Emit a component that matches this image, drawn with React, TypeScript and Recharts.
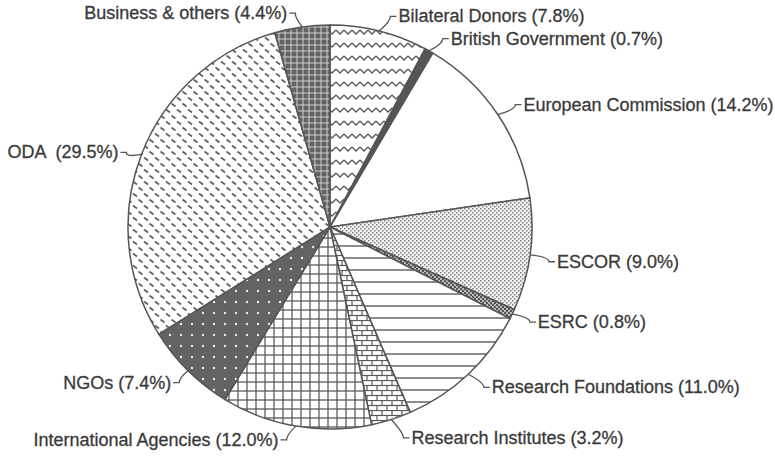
import React from 'react';
import { PieChart, Pie, Cell } from 'recharts';

const categories = [
  'Bilateral Donors',
  'British Government',
  'European Commission',
  'ESCOR',
  'ESRC',
  'Research Foundations',
  'Research Institutes',
  'International Agencies',
  'NGOs',
  'ODA',
  'Business & others',
];
const shares = [7.8, 0.7, 14.2, 9.0, 0.8, 11.0, 3.2, 12.0, 7.4, 29.5, 4.4];
const labelTexts = [
  'Bilateral Donors (7.8%)',
  'British Government (0.7%)',
  'European Commission (14.2%)',
  'ESCOR (9.0%)',
  'ESRC (0.8%)',
  'Research Foundations (11.0%)',
  'Research Institutes (3.2%)',
  'International Agencies (12.0%)',
  'NGOs (7.4%)',
  'ODA  (29.5%)',
  'Business & others (4.4%)',
];

// styling / label layout (kept apart from the data)
const fills = [
  'url(#pZig)',
  '#555',
  '#ffffff',
  'url(#pStip)',
  'url(#pEsrc)',
  'url(#pHoriz)',
  'url(#pBrick)',
  'url(#pGrid)',
  'url(#pDots)',
  'url(#pDash)',
  'url(#pCross)',
];
const labelNudge: [number, number][] = [
  [8, -1],
  [7, 0],
  [6, -2],
  [5, 5],
  [5, 2],
  [6, 3],
  [8, 5],
  [-7, 0],
  [1, 2],
  [-2, 3],
  [-5, 0],
];

const data = categories.map((name, i) => ({ name, value: shares[i] }));

const LINE = '#555';
const TEXT = '#3a3a3a';

const renderLabel = (props: any) => {
  const { cx, cy, midAngle, outerRadius, index } = props;
  const rad = (-midAngle * Math.PI) / 180;
  const c = Math.cos(rad);
  const s = Math.sin(rad);
  const ex = cx + outerRadius * c;
  const ey = cy + outerRadius * s;
  const [nx, ny] = labelNudge[index] || [0, 0];
  const lx = cx + (outerRadius + 14) * c + nx;
  const ly = cy + (outerRadius + 14) * s + ny;
  const right = c >= 0;
  const dx = right ? 6 : -6;
  return (
    <g key={`lbl-${index}`}>
      <path
        d={`M${ex},${ey} Q${lx},${ly + (ly < ey ? 5 : -5)} ${lx},${ly} L${lx + dx},${ly}`}
        stroke={LINE}
        strokeWidth={1.3}
        fill="none"
      />
      <text
        x={lx + dx + (right ? 2 : -2)}
        y={ly}
        textAnchor={right ? 'start' : 'end'}
        dominantBaseline="central"
        fontFamily="'Liberation Sans', Arial, sans-serif"
        fontSize={18}
        fill={TEXT}
        stroke={TEXT}
        strokeWidth={0.3}
        style={{ whiteSpace: 'pre' }}
      >
        {labelTexts[index]}
      </text>
    </g>
  );
};

export default function App() {
  return (
    <div style={{ position: 'absolute', left: 0, top: 0, width: 775, height: 457, background: '#fff' }}>
      <svg width={0} height={0} style={{ position: 'absolute' }}>
        <defs>
          <pattern id="pZig" patternUnits="userSpaceOnUse" width={8} height={13}>
            <rect width={8} height={13} fill="#fff" />
            <path d="M0,4 L4,8 L8,4" stroke="#5a5a5a" strokeWidth={1.3} fill="none" />
          </pattern>
          <pattern id="pStip" patternUnits="userSpaceOnUse" width={4} height={4}>
            <rect width={4} height={4} fill="#f2f2f2" />
            <rect x={0} y={0} width={1.5} height={1.5} fill="#808080" />
            <rect x={2} y={2} width={1.5} height={1.5} fill="#808080" />
          </pattern>
          <pattern id="pEsrc" patternUnits="userSpaceOnUse" width={4} height={4}>
            <rect width={4} height={4} fill="#bbb" />
            <rect x={0} y={0} width={2} height={2} fill="#555" />
            <rect x={2} y={2} width={2} height={2} fill="#555" />
          </pattern>
          <pattern id="pHoriz" patternUnits="userSpaceOnUse" width={12} height={12}>
            <rect width={12} height={12} fill="#fff" />
            <line x1={0} y1={6} x2={12} y2={6} stroke="#5a5a5a" strokeWidth={1.4} />
          </pattern>
          <pattern id="pBrick" patternUnits="userSpaceOnUse" width={10} height={10}>
            <rect width={10} height={10} fill="#fff" />
            <line x1={0} y1={0.5} x2={10} y2={0.5} stroke="#5a5a5a" strokeWidth={1.2} />
            <line x1={0} y1={5.5} x2={10} y2={5.5} stroke="#5a5a5a" strokeWidth={1.2} />
            <line x1={2} y1={0.5} x2={2} y2={5.5} stroke="#5a5a5a" strokeWidth={1.2} />
            <line x1={7} y1={5.5} x2={7} y2={10.5} stroke="#5a5a5a" strokeWidth={1.2} />
          </pattern>
          <pattern id="pGrid" patternUnits="userSpaceOnUse" width={9} height={9}>
            <rect width={9} height={9} fill="#fff" />
            <line x1={0} y1={4} x2={9} y2={4} stroke="#5a5a5a" strokeWidth={1.3} />
            <line x1={4} y1={0} x2={4} y2={9} stroke="#5a5a5a" strokeWidth={1.3} />
          </pattern>
          <pattern id="pDots" patternUnits="userSpaceOnUse" width={11} height={11}>
            <rect width={11} height={11} fill="#636363" />
            <circle cx={5} cy={5} r={1.2} fill="#ececec" />
          </pattern>
          <pattern id="pDash" patternUnits="userSpaceOnUse" width={11} height={12}>
            <rect width={11} height={12} fill="#fff" />
            <line x1={1} y1={1.5} x2={5} y2={4.5} stroke="#5e5e5e" strokeWidth={1.6} />
            <line x1={6.5} y1={7.5} x2={10.5} y2={10.5} stroke="#5e5e5e" strokeWidth={1.6} />
          </pattern>
          <pattern id="pCross" patternUnits="userSpaceOnUse" width={6} height={6}>
            <rect width={6} height={6} fill="#636363" />
            <line x1={0} y1={3} x2={6} y2={3} stroke="#d8d8d8" strokeWidth={0.9} />
            <line x1={3} y1={0} x2={3} y2={6} stroke="#d8d8d8" strokeWidth={0.9} />
          </pattern>
        </defs>
      </svg>
      <PieChart width={775} height={457} margin={{ top: 0, right: 0, bottom: 0, left: 0 }}>
        <Pie
          data={data}
          dataKey="value"
          nameKey="name"
          cx={330}
          cy={227}
          outerRadius={202}
          startAngle={90}
          endAngle={-270}
          stroke={LINE}
          strokeWidth={1.5}
          label={renderLabel}
          labelLine={false}
          isAnimationActive={false}
        >
          {data.map((d, i) => (
            <Cell key={d.name} fill={fills[i]} />
          ))}
        </Pie>
      </PieChart>
    </div>
  );
}
